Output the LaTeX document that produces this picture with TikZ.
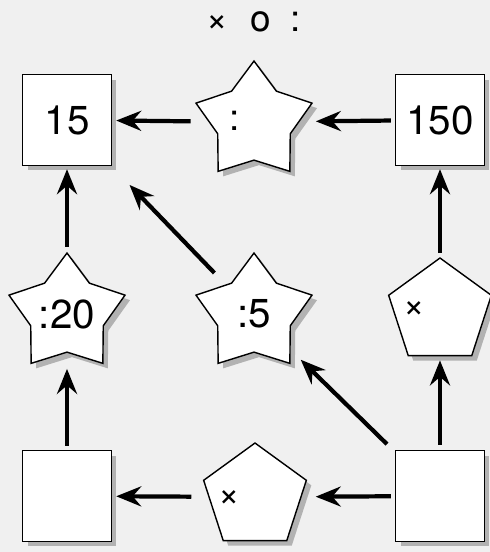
\documentclass[tikz,border=0pt]{standalone}
\usepackage{fontspec}
\setmainfont{TeX Gyre Heros}
\usetikzlibrary{shapes.geometric,shadows,arrows.meta}

\tikzset{
    shade/.style={drop shadow={fill=black!30, opacity=1, shadow xshift=0.1cm, shadow yshift=-0.1cm}},
    box/.style={draw, fill=white, line width=0.8pt, inner sep=0pt, minimum width=1.78cm, minimum height=1.82cm, shade, font=\fontsize{23}{23}\selectfont},
    starop/.style={draw, fill=white, line width=0.8pt, star, star points=5, star point ratio=1.6, inner sep=0pt, minimum size=2.44cm, shade},
    pentop/.style={draw, fill=white, line width=0.8pt, regular polygon, regular polygon sides=5, inner sep=0pt, minimum size=2.16cm, shade},
    op/.style={font=\fontsize{21}{21}\selectfont, inner sep=0pt},
    num/.style={font=\fontsize{23}{23}\selectfont, inner sep=0pt},
    arr/.style={-{Stealth[length=0.5cm, width=0.4cm, inset=0.17cm]}, line width=2.4pt}
}

\begin{document}
\begin{tikzpicture}[x=0.02cm, y=-0.02cm]
            \fill [black!6] (0,0) rectangle (490,552);
            \useasboundingbox (0,0) rectangle (490,552);

            \node [op] (title) at (254,22) {×\hspace{0.59em}o\hspace{0.54em}:};

            \node [box] (b15) at (67,120) {15};
            \node [starop, label={[op, xshift=-0.38cm, yshift=0.02cm]center::}] (sdiv) at (254,122) {};
            \node [box] (b150) at (440,120) {150};

            \node [starop, label={[num]center::20}] (s20) at (67,314) {};
            \node [starop, label={[num]center::5}] (s5) at (254,314) {};
            \node [pentop, label={[op, xshift=-0.52cm, yshift=0.04cm]center:×}] (pright) at (440,312) {};

            \node [box] (bleft) at (67,496) {};
            \node [pentop, label={[op, xshift=-0.52cm, yshift=-0.04cm]center:×}] (pbot) at (255,497) {};
            \node [box] (bright) at (440,496) {};

            \draw [arr, shorten <=0.35cm, shorten >=0.08cm] (sdiv) -- (b15);
            \draw [arr, shorten <=0.08cm, shorten >=0.32cm] (b150) -- (sdiv);
            \draw [arr, shorten <=0.08cm, shorten >=0.32cm] (bleft) -- (s20);
            \draw [arr, shorten <=0.1cm, shorten >=0.06cm] (s20) -- (b15);
            \draw [arr, shorten <=0.1cm, shorten >=0.08cm] (bright) -- (pright);
            \draw [arr, shorten <=0.08cm, shorten >=0.06cm] (pright) -- (b150);
            \draw [arr, shorten <=0.08cm, shorten >=0.28cm] (bright) -- (pbot);
            \draw [arr, shorten <=0.34cm, shorten >=0.08cm] (pbot) -- (bleft);
            \draw [arr, shorten <=0.22cm, shorten >=0.28cm] (bright) -- (s5);
            \draw [arr, shorten <=0.32cm, shorten >=0.52cm] (s5) -- (b15);
        \end{tikzpicture}
\end{document}
